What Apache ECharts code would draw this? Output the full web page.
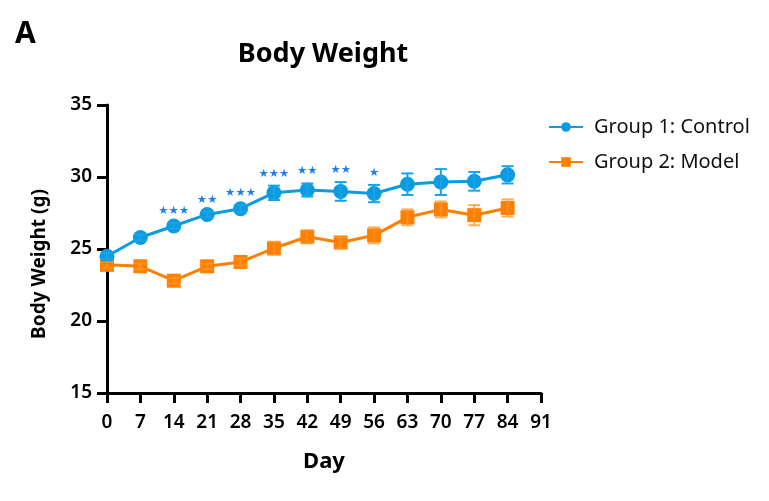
<!DOCTYPE html>
<html><head><meta charset="utf-8">
<script src="https://cdn.jsdelivr.net/npm/echarts@6/dist/echarts.min.js"></script>
<style>html,body{margin:0;padding:0;background:#fff}#c{width:769px;height:501px}</style>
</head><body><div id="c"></div>
<script>
const days = [0, 7, 14, 21, 28, 35, 42, 49, 56, 63, 70, 77, 84];
const controlMean = [24.5, 25.8, 26.6, 27.4, 27.8, 28.9, 29.1, 29.0, 28.85, 29.5, 29.65, 29.7, 30.15];
const controlErr  = [0.2, 0.2, 0.2, 0.2, 0.25, 0.5, 0.45, 0.65, 0.6, 0.75, 0.9, 0.65, 0.6];
const modelMean   = [23.9, 23.8, 22.8, 23.8, 24.1, 25.05, 25.85, 25.45, 25.95, 27.2, 27.75, 27.35, 27.85];
const modelErr    = [0.2, 0.2, 0.2, 0.2, 0.25, 0.45, 0.45, 0.4, 0.55, 0.55, 0.55, 0.7, 0.6];
const significance = ['', '', '★★★', '★★', '★★★', '★★★', '★★', '★★', '★', '', '', '', ''];
const xTicks = [0, 7, 14, 21, 28, 35, 42, 49, 56, 63, 70, 77, 84, 91];
const yTicks = [15, 20, 25, 30, 35];

const blue = '#0A9BE0', orange = '#FF8000';
const font = 'Noto Sans';

function errData(mean, err) { return days.map((d, i) => [d, mean[i], err[i]]); }
function errRender(color) {
  return function (params, api) {
    const x = api.value(0), m = api.value(1), e = api.value(2);
    const top = api.coord([x, m + e]), bot = api.coord([x, m - e]);
    const hw = 6;
    const style = { stroke: color, lineWidth: 2 };
    return { type: 'group', children: [
      { type: 'line', shape: { x1: top[0], y1: top[1], x2: bot[0], y2: bot[1] }, style },
      { type: 'line', shape: { x1: top[0] - hw, y1: top[1], x2: top[0] + hw, y2: top[1] }, style },
      { type: 'line', shape: { x1: bot[0] - hw, y1: bot[1], x2: bot[0] + hw, y2: bot[1] }, style }
    ]};
  };
}
const starData = days.map((d, i) => [d, controlMean[i] + controlErr[i], significance[i]]).filter(r => r[2]);

const chart = echarts.init(document.getElementById('c'));
chart.setOption({
  animation: false,
  textStyle: { fontFamily: font },
  title: [
    { text: 'Body Weight', left: 318, top: 36, textAlign: 'center',
      textStyle: { fontFamily: font, fontSize: 27, fontWeight: 'bold', color: '#000' } },
    { text: 'A', left: 10, top: 14,
      textStyle: { fontFamily: font, fontSize: 30, fontWeight: 'bold', color: '#000' } }
  ],
  legend: {
    orient: 'vertical', left: 543, top: 112, itemGap: 15, itemWidth: 34, itemHeight: 12,
    textStyle: { fontFamily: font, fontSize: 20, color: '#111', padding: [0, 0, 0, 6] },
    data: ['Group 1: Control', 'Group 2: Model']
  },
  grid: { left: 107, right: 228, top: 105, bottom: 108 },
  graphic: [
    { type: 'text', x: 40, y: 264, rotation: Math.PI / 2,
      style: { text: 'Body Weight (g)', fontFamily: font, fontSize: 19, fontWeight: 'bold',
        fill: '#000', align: 'center', verticalAlign: 'middle' } }
  ],
  xAxis: {
    type: 'value', min: 0, max: 91, interval: 7,
    name: 'Day', nameLocation: 'middle', nameGap: 58,
    nameTextStyle: { fontFamily: font, fontSize: 22, fontWeight: 'bold', color: '#000' },
    axisLine: { lineStyle: { color: '#000', width: 3 } },
    axisTick: { length: 10, lineStyle: { color: '#000', width: 3 } },
    axisLabel: { fontFamily: font, fontSize: 19, fontWeight: 600, color: '#000', margin: 20,
      formatter: v => xTicks.includes(v) ? String(v) : '' },
    splitLine: { show: false }
  },
  yAxis: {
    type: 'value', min: 15, max: 35, interval: 5,
    axisLine: { show: true, lineStyle: { color: '#000', width: 3 } },
    axisTick: { show: true, length: 10, lineStyle: { color: '#000', width: 3 } },
    axisLabel: { fontFamily: font, fontSize: 19, fontWeight: 600, color: '#000', margin: 15,
      formatter: v => yTicks.includes(v) ? String(v) : '' },
    splitLine: { show: false }
  },
  series: [
    { type: 'custom', name: 'errModel', data: errData(modelMean, modelErr),
      renderItem: errRender('rgba(255,150,40,0.75)'), z: 5, silent: true },
    { type: 'custom', name: 'errControl', data: errData(controlMean, controlErr),
      renderItem: errRender('#1AA3E8'), z: 5, silent: true },
    { type: 'line', name: 'Group 2: Model', data: days.map((d, i) => [d, modelMean[i]]),
      symbol: 'rect', symbolSize: 14, lineStyle: { color: orange, width: 3 },
      itemStyle: { color: orange }, z: 3 },
    { type: 'line', name: 'Group 1: Control', data: days.map((d, i) => [d, controlMean[i]]),
      symbol: 'circle', symbolSize: 15, lineStyle: { color: blue, width: 3 },
      itemStyle: { color: blue }, z: 4 },
    { type: 'custom', name: 'stars', data: starData, z: 6, silent: true,
      renderItem: function (params, api) {
        const p = api.coord([api.value(0), api.value(1)]);
        return { type: 'text', x: p[0], y: p[1] - 6,
          style: { text: starData[params.dataIndex][2], fill: '#1E7FE8', fontSize: 11.5,
            fontFamily: 'DejaVu Sans', align: 'center', verticalAlign: 'bottom' } };
      } }
  ]
});
</script></body></html>
